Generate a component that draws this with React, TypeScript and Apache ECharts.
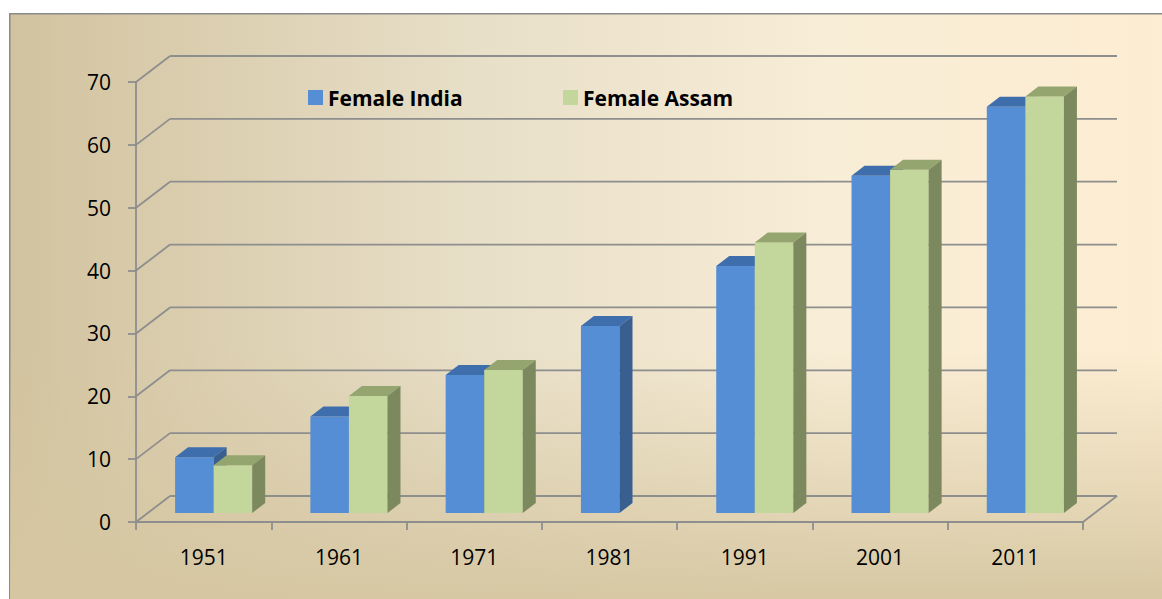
import React, { useEffect, useRef } from "react";
import * as echarts from "echarts";

const categories = ["1951", "1961", "1971", "1981", "1991", "2001", "2011"];
const femaleIndia = [8.86, 15.35, 21.97, 29.76, 39.29, 53.67, 64.63];
const femaleAssam: (number | null)[] = [7.58, 18.62, 22.76, null, 43.03, 54.61, 66.27];
const yTicks = [0, 10, 20, 30, 40, 50, 60, 70];

const WALL_DX = 34;
const WALL_DY = -26;
const BAR_SHIFT_X = 10;
const BAR_SHIFT_Y = -9;
const BAR_DX = 13;
const BAR_DY = -10;
const GRID_COLOR = "#8e8e8e";

const indiaColors = { front: "#558ed5", top: "#3f6ead", side: "#385f90" };
const assamColors = { front: "#c3d69b", top: "#95a56f", side: "#7c885e" };

function makeBarRender(seriesIdx: number, c: { front: string; top: string; side: string }) {
  return (params: any, api: any) => {
    const v = api.value(1);
    if (v === null || v === undefined || isNaN(v)) return null;
    const idx = api.value(0);
    const topPt = api.coord([idx, v]);
    const basePt = api.coord([idx, 0]);
    const band = api.size([1, 0])[0];
    const bw = band * 0.285;
    const xc = topPt[0] + BAR_SHIFT_X;
    const x0 = seriesIdx === 0 ? xc - bw : xc;
    const x1 = x0 + bw;
    const yt = topPt[1] + BAR_SHIFT_Y;
    const yb = basePt[1] + BAR_SHIFT_Y;
    return {
      type: "group",
      children: [
        { type: "polygon", shape: { points: [[x0, yt], [x1, yt], [x1, yb], [x0, yb]] }, style: { fill: c.front } },
        { type: "polygon", shape: { points: [[x0, yt], [x1, yt], [x1 + BAR_DX, yt + BAR_DY], [x0 + BAR_DX, yt + BAR_DY]] }, style: { fill: c.top } },
        { type: "polygon", shape: { points: [[x1, yt], [x1 + BAR_DX, yt + BAR_DY], [x1 + BAR_DX, yb + BAR_DY], [x1, yb]] }, style: { fill: c.side } },
      ],
    };
  };
}

function wallRender(params: any, api: any) {
  const v = api.value(1);
  const y = api.coord([0, v])[1];
  const cs = params.coordSys;
  const left = cs.x;
  const right = cs.x + cs.width;
  const style = { stroke: GRID_COLOR, lineWidth: 1.8 };
  const children: any[] = [
    { type: "line", shape: { x1: left, y1: y, x2: left + WALL_DX, y2: y + WALL_DY }, style },
    { type: "line", shape: { x1: left + WALL_DX, y1: y + WALL_DY, x2: right + WALL_DX, y2: y + WALL_DY }, style },
  ];
  if (v === 0) {
    children.push({ type: "line", shape: { x1: right, y1: y, x2: right + WALL_DX, y2: y + WALL_DY }, style });
  }
  return { type: "group", children };
}

export default function App() {
  const ref = useRef<HTMLDivElement>(null);
  useEffect(() => {
    document.body.style.margin = "0";
    if (!ref.current) return;
    const chart = echarts.init(ref.current, null, { renderer: "svg" });
    const font = "'Open Sans', sans-serif";
    const legendText = { fontFamily: font, fontWeight: "bold", fontSize: 21, color: "#000" };
    chart.setOption({
      animation: false,
      graphic: {
        elements: [
          {
            type: "rect",
            left: 9,
            top: 13,
            z: -100,
            shape: { width: 1170, height: 610 },
            style: {
              fill: new echarts.graphic.LinearGradient(0, 0, 1, 0, [
                { offset: 0, color: "#d2c39f" },
                { offset: 0.4, color: "#e8dfc8" },
                { offset: 0.7, color: "#f8edd6" },
                { offset: 1, color: "#fdedd2" },
              ]),
              stroke: "#8a8a8a",
              lineWidth: 1.5,
            },
          },
          {
            type: "rect",
            left: 10,
            top: 14,
            z: -99,
            shape: { width: 1170, height: 610 },
            style: {
              fill: new echarts.graphic.LinearGradient(0, 0, 0, 1, [
                { offset: 0, color: "rgba(214,199,162,0)" },
                { offset: 0.55, color: "rgba(214,199,162,0)" },
                { offset: 0.95, color: "rgba(214,199,162,0.95)" },
                { offset: 1, color: "rgba(214,199,162,1)" },
              ]),
            },
          },
        ],
      },
      legend: [
        {
          data: ["Female India"],
          left: 303,
          top: 82,
          itemWidth: 15,
          itemHeight: 15,
          icon: "rect",
          textStyle: legendText,
        },
        {
          data: ["Female Assam"],
          left: 558,
          top: 82,
          itemWidth: 15,
          itemHeight: 15,
          icon: "rect",
          textStyle: legendText,
        },
      ],
      grid: { left: 136, top: 82, width: 947, height: 440, containLabel: false },
      xAxis: {
        type: "category",
        data: categories,
        axisLine: { show: true, lineStyle: { color: GRID_COLOR, width: 1.8 } },
        axisTick: { show: true, length: 8, lineStyle: { color: GRID_COLOR, width: 1.8 } },
        axisLabel: { margin: 24, fontFamily: font, fontSize: 21, color: "#000" },
        splitLine: { show: false },
      },
      yAxis: {
        type: "value",
        min: 0,
        max: 70,
        interval: 10,
        axisLine: { show: true, lineStyle: { color: GRID_COLOR, width: 1.8 } },
        axisTick: { show: true, length: 8, lineStyle: { color: GRID_COLOR, width: 1.8 } },
        axisLabel: { margin: 25, fontFamily: font, fontSize: 21, color: "#000" },
        splitLine: { show: false },
      },
      series: [
        {
          type: "custom",
          name: "walls",
          z: 1,
          silent: true,
          renderItem: wallRender,
          encode: { x: 0, y: 1 },
          data: yTicks.map((v) => [0, v]),
        },
        {
          type: "custom",
          name: "Female India",
          z: 3,
          itemStyle: { color: indiaColors.front },
          renderItem: makeBarRender(0, indiaColors),
          encode: { x: 0, y: 1 },
          data: femaleIndia.map((v, i) => [i, v]),
        },
        {
          type: "custom",
          name: "Female Assam",
          z: 4,
          itemStyle: { color: assamColors.front },
          renderItem: makeBarRender(1, assamColors),
          encode: { x: 0, y: 1 },
          data: femaleAssam.map((v, i) => [i, v === null ? "-" : v]),
        },
      ],
    });
    return () => chart.dispose();
  }, []);
  return <div ref={ref} style={{ width: 1162, height: 599 }} />;
}
